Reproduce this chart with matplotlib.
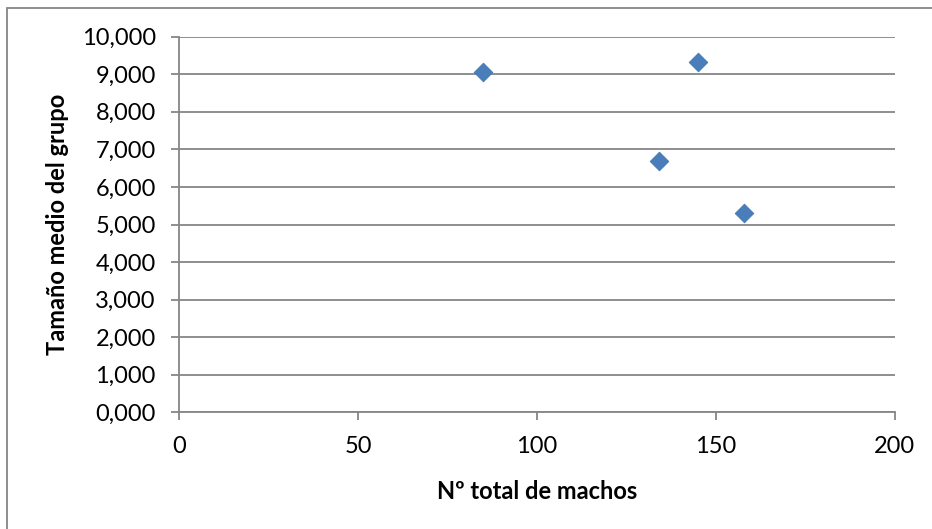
import matplotlib.pyplot as plt
import matplotlib.patches as mpatches
from matplotlib.ticker import FuncFormatter, MultipleLocator

plt.rcParams['font.family'] = ['Lato', 'DejaVu Sans']

# Nº total de machos vs tamaño medio del grupo
machos = [85, 145, 134, 158]
tamano_medio = [9.06, 9.32, 6.69, 5.31]

x_ticks = [0, 50, 100, 150, 200]
y_max = 10

grey = '#868686'
blue = '#4a7ebb'

fig = plt.figure(figsize=(9.32, 5.29), dpi=100)
ax = fig.add_axes([0.1924, 0.2206, 0.9600 - 0.1924, 0.9306 - 0.2206])

ax.scatter(machos, tamano_medio, marker='D', s=9.5 ** 2, color=blue,
           edgecolors='#4577b3', linewidths=0.6, zorder=3)

ax.set_xlim(x_ticks[0], x_ticks[-1])
ax.set_ylim(0, y_max)
ax.set_xticks(x_ticks)
ax.yaxis.set_major_locator(MultipleLocator(1))
ax.yaxis.set_major_formatter(FuncFormatter(lambda v, p: f"{v:.3f}".replace('.', ',')))

ax.grid(axis='y', color=grey, linewidth=1.3)
ax.set_axisbelow(True)
for side in ['top', 'right']:
    ax.spines[side].set_visible(False)
for side in ['left', 'bottom']:
    ax.spines[side].set_color(grey)
    ax.spines[side].set_linewidth(1.3)
ax.tick_params(axis='both', direction='out', length=6, width=1.3, color=grey,
               labelsize=17, labelcolor='black', pad=11)

ax.set_xlabel('Nº total de machos', fontsize=17, fontweight='bold')
ax.xaxis.set_label_coords(0.5, -0.2114)
ax.xaxis.label.set_va('center')
ax.set_ylabel('Tamaño medio del grupo', fontsize=17, fontweight='bold')
ax.yaxis.set_label_coords(-0.1696, 0.5)
ax.yaxis.label.set_va('center')

# outer chart frame
frame = mpatches.Rectangle((7 / 932, -0.1), 1.2, 0.1 + 1 - 8 / 529,
                           transform=fig.transFigure, fill=False,
                           edgecolor=grey, linewidth=1.3)
fig.patches.append(frame)

fig.savefig('out.png', dpi=100)
